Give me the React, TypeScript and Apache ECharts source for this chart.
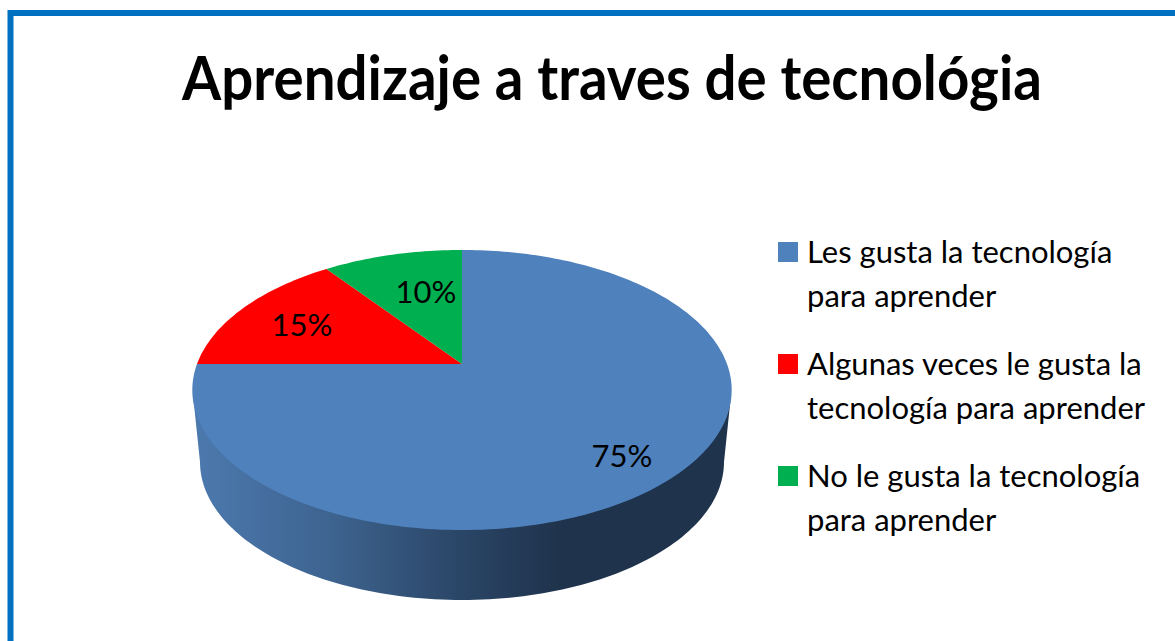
import React, { useEffect, useRef } from "react";
import * as echarts from "echarts";

const titleText = "Aprendizaje a traves de tecnológia";
const categories = [
  "Les gusta la tecnología\npara aprender",
  "Algunas veces le gusta la\ntecnología para aprender",
  "No le gusta la tecnología\npara aprender",
];
const values = [75, 15, 10];
const colors = ["#4F81BD", "#FF0000", "#00B050"];
const labelRadius = [0.78, 0.7, 0.58];
const labelShift = [[-3, 8], [-4, 1], [7, -5]];

// Perspective view of the pie's top face
const CX = 462, CY = 364, AX = 265, BY = 135.2, K = 0.1857;
const project = (u: number, v: number): number[] => {
  const w = 1 + K * v;
  return [CX + (AX * u) / w, CY - (BY * v) / w];
};
const total = values.reduce((a, b) => a + b, 0);

const sectorPoints = (startPct: number, endPct: number) => {
  const pts: number[][] = [[CX, CY]];
  const n = Math.max(8, Math.round((endPct - startPct) * 3));
  for (let i = 0; i <= n; i++) {
    const a = ((startPct + ((endPct - startPct) * i) / n) / total) * Math.PI * 2;
    pts.push(project(Math.sin(a), Math.cos(a)));
  }
  return pts;
};

const sidePoints = () => {
  const pts: number[][] = [];
  pts.push([193, 395]);
  const bcx = 462, bcy = 462, brx = 262, bry = 138;
  for (let i = 0; i <= 120; i++) {
    const t = Math.PI - (Math.PI * i) / 120;
    pts.push([bcx + brx * Math.cos(t), bcy + bry * Math.sin(t)]);
  }
  pts.push([731, 395]);
  return pts;
};

const renderSlice = (params: any, api: any) => {
  const idx = params.seriesIndex;
  const start = values.slice(0, idx).reduce((a, b) => a + b, 0);
  const val = api.value(0);
  const end = start + val;
  const mid = (((start + end) / 2) / total) * Math.PI * 2;
  const r = labelRadius[idx];
  const [lx, ly] = project(Math.sin(mid) * r, Math.cos(mid) * r);
  const children: any[] = [];
  if (idx === 0) {
    children.push({
      type: "polygon",
      shape: { points: sidePoints() },
      style: {
        fill: new echarts.graphic.LinearGradient(
          195, 0, 730, 0,
          [
            { offset: 0, color: "#4C79AE" },
            { offset: 0.25, color: "#3E6490" },
            { offset: 0.5, color: "#2A4566" },
            { offset: 0.68, color: "#1F334C" },
            { offset: 1, color: "#1F334C" },
          ],
          true
        ),
      },
    });
  }
  children.push({
    type: "polygon",
    shape: { points: sectorPoints(start, end) },
    style: { fill: colors[idx] },
  });
  children.push({
    type: "text",
    z2: 10,
    x: lx + labelShift[idx][0],
    y: ly + labelShift[idx][1],
    style: {
      text: `${val}%`,
      fill: "#000",
      font: '400 31px Lato, "Open Sans", sans-serif',
      align: "center",
      verticalAlign: "middle",
    },
  });
  return { type: "group", children };
};

export default function App() {
  const ref = useRef<HTMLDivElement>(null);
  useEffect(() => {
    document.body.style.margin = "0";
    const chart = echarts.init(ref.current!, undefined, { renderer: "svg" });
    chart.setOption({
      animation: false,
      backgroundColor: "#FFFFFF",
      legend: {
        orient: "vertical",
        left: 778,
        top: 229,
        padding: 0,
        itemWidth: 20,
        itemHeight: 88,
        itemGap: 24,
        icon: "path://M0 0L0 0M0 13H20V33H0ZM0 88L0 88",
        textStyle: { fontFamily: "Lato", fontSize: 31, color: "#000", lineHeight: 44, padding: [0, 0, 0, 4] },
        data: categories,
        selectedMode: false,
      },
      graphic: [
        {
          type: "polyline",
          shape: { points: [[10.5, 641], [10.5, 13], [1175, 13]] },
          style: { stroke: "#0070C0", lineWidth: 6, fill: "none" },
        },
        {
          type: "text",
          x: 612,
          y: 76,
          scaleX: 0.911,
          style: {
            text: titleText,
            fill: "#000",
            font: "700 62px Lato",
            align: "center",
            verticalAlign: "middle",
          },
        },
      ],
      series: categories.map((name, i) => ({
        type: "custom",
        name,
        coordinateSystem: "none",
        itemStyle: { color: colors[i] },
        renderItem: renderSlice,
        data: [[values[i]]],
        z: 2,
      })),
    });
    return () => chart.dispose();
  }, []);
  return <div ref={ref} style={{ width: 1175, height: 641 }} />;
}
